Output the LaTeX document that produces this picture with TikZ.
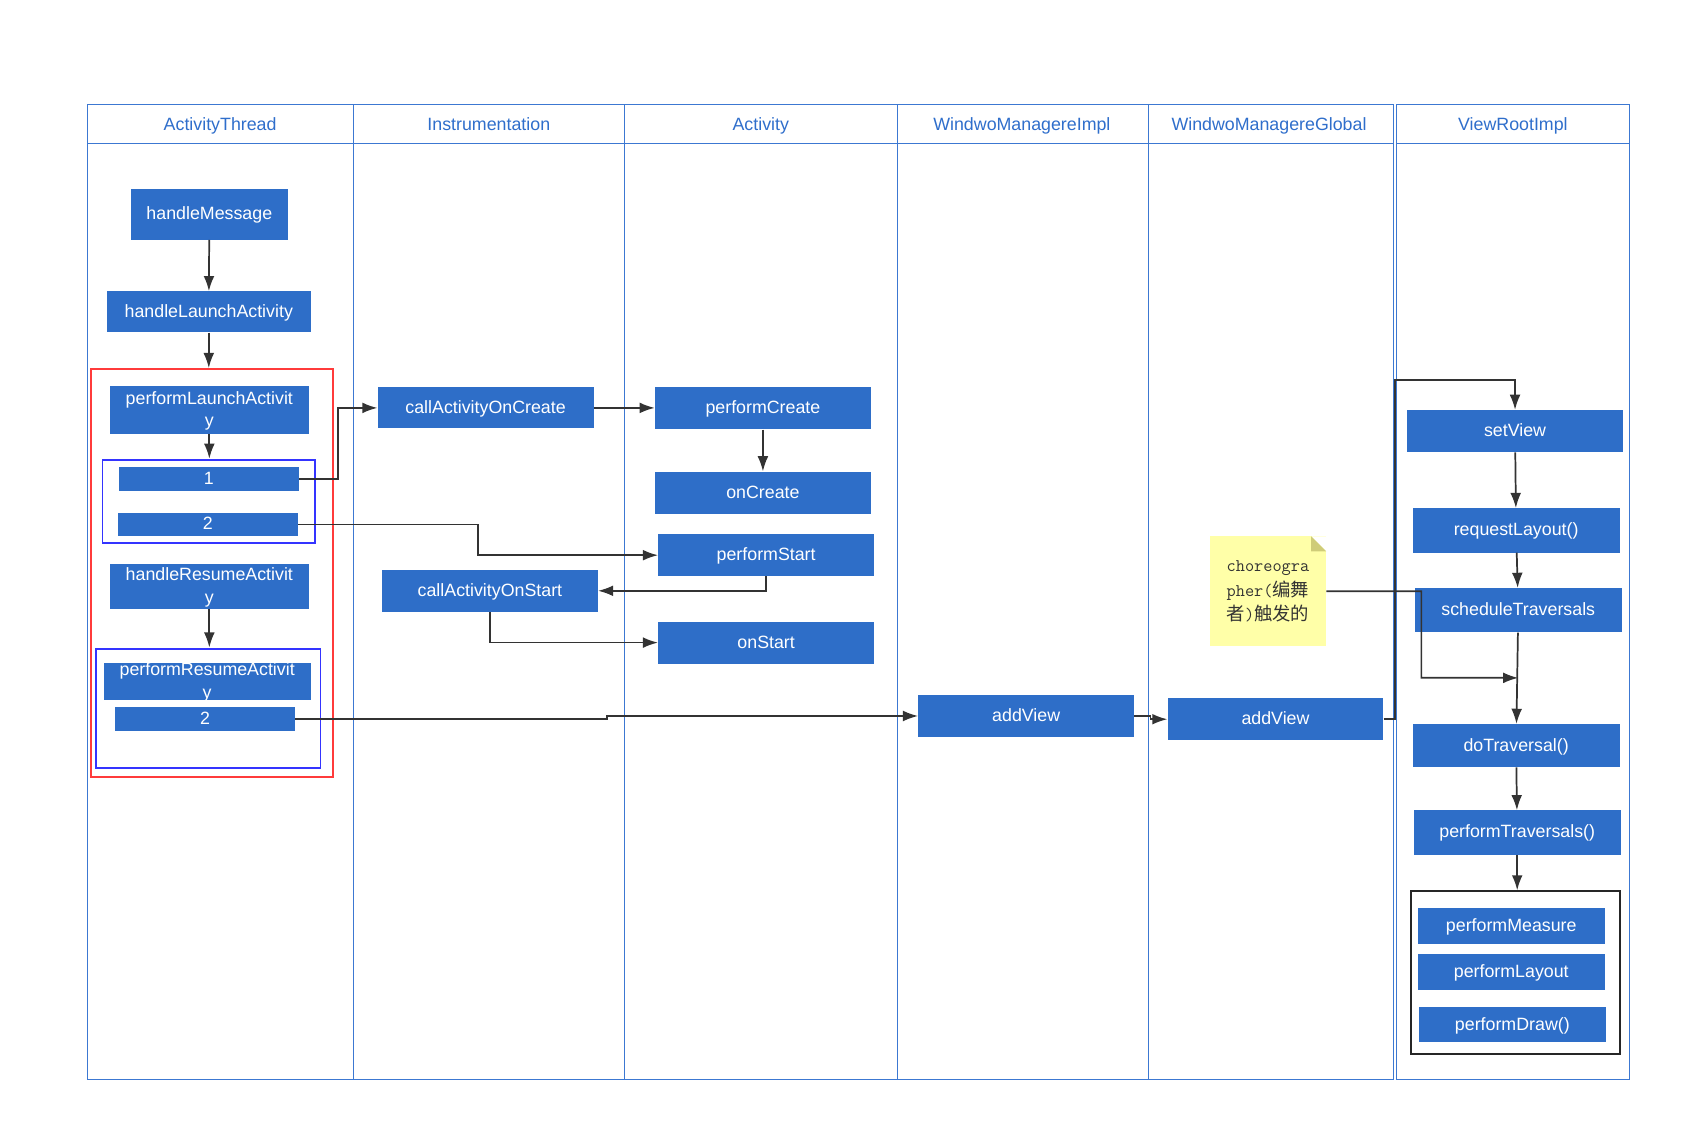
\documentclass[tikz,border=0pt]{standalone}
\usepackage{fontspec}
\setmainfont{Liberation Sans}
\newfontfamily\cjk{Noto Sans CJK SC}
\usetikzlibrary{arrows.meta,calc}
\definecolor{boxblue}{HTML}{2E6EC8}
\definecolor{laneblue}{HTML}{3C78D2}
\definecolor{headblue}{HTML}{2F6ECB}
\definecolor{linegray}{HTML}{333333}
\definecolor{noteyellow}{HTML}{FFFFA8}
\definecolor{notefold}{HTML}{CFCC78}
\definecolor{groupred}{HTML}{FF3B3B}
\definecolor{groupblue}{HTML}{3434FF}
\newcommand\zhtext[1]{{\cjk\fontsize{17}{23}\selectfont #1}}
\tikzset{
  fn/.style={fill=boxblue,text=white,inner sep=0pt,align=center,text height=12pt,text depth=2pt,
    font=\fontsize{16.5}{21}\selectfont},
  twoline/.style={text height=33pt},
  head/.style={text=headblue,text height=12pt,text depth=2pt,font=\fontsize{16.5}{20}\selectfont},
  lane/.style={draw=laneblue,line width=1pt},
  link/.style={draw=linegray,line width=1.6pt,-{Latex[length=14pt,width=10pt]}},
  group/.style={draw,line width=1.8pt,inner sep=0pt},
  note/.style={fill=noteyellow,inner sep=0pt,align=left,text=linegray,
    font=\ttfamily\fontsize{16.5}{23}\selectfont,
    path picture={
      \fill[white] (path picture bounding box.north east) -- ++(-14pt,0) -- ++(14pt,-14pt) -- cycle;
      \fill[notefold] ($(path picture bounding box.north east)+(-14pt,0)$) -- ++(0,-14pt) -- ++(14pt,0) -- cycle;
    }},
}
\begin{document}
\begin{tikzpicture}[x=1pt,y=-1pt]
\useasboundingbox (0,0) rectangle (1568,1058);
\draw[lane] (81,97) rectangle (1291,1000);
\draw[lane] (81,133) -- (1291,133);
\foreach \x in {328,579,832,1064} \draw[lane] (\x,97) -- (\x,1000);
\draw[lane] (1294,97) rectangle (1510,1000);
\draw[lane] (1294,133) -- (1510,133);
\foreach \x/\t [count=\i] in {204/ActivityThread,453/Instrumentation,705/Activity,947/WindwoManagereImpl,1176/WindwoManagereGlobal,1402/ViewRootImpl}
  \node[head] (head\i) at (\x,116) {\t};

\node[group,draw=groupred,minimum width=225,minimum height=378] (launchGroup) at (196.5,531) {};
\node[group,draw=groupblue,minimum width=197,minimum height=77] (launchStep) at (193.5,464.5) {};
\node[group,draw=groupblue,minimum width=208,minimum height=111] (resumeGroup) at (193,656.5) {};
\node[group,draw=black!85,minimum width=193,minimum height=151] (drawGroup) at (1404.5,901.5) {};

\node[fn,minimum width=146,minimum height=47] (handleMessage) at (194,198.5) {handleMessage};
\node[fn,minimum width=189,minimum height=38] (handleLaunch) at (193.5,289) {handleLaunchActivity};
\node[fn,twoline,minimum width=184,minimum height=44] (performLaunch) at (194,380) {performLaunchActivit\\y};
\node[fn,minimum width=167,minimum height=22] (launchOne) at (193.5,444) {1};
\node[fn,minimum width=167,minimum height=22] (launchTwo) at (192.5,486) {2};
\node[fn,twoline,minimum width=184,minimum height=41] (handleResume) at (194,543.5) {handleResumeActivit\\y};
\node[fn,twoline,minimum width=192,minimum height=35] (performResume) at (192,631.5) {performResumeActivit\\y};
\node[fn,minimum width=166,minimum height=22] (resumeTwo) at (190,666) {2};

\node[fn,minimum width=200,minimum height=38] (callOnCreate) at (450,378) {callActivityOnCreate};
\node[fn,minimum width=200,minimum height=39] (callOnStart) at (454,547.5) {callActivityOnStart};

\node[fn,minimum width=200,minimum height=39] (performCreate) at (707,378.5) {performCreate};
\node[fn,minimum width=200,minimum height=39] (onCreate) at (707,456.5) {onCreate};
\node[fn,minimum width=200,minimum height=39] (performStart) at (710,514.5) {performStart};
\node[fn,minimum width=200,minimum height=39] (onStart) at (710,595.5) {onStart};

\node[fn,minimum width=200,minimum height=39] (addViewImpl) at (951,663.5) {addView};
\node[fn,minimum width=200,minimum height=39] (addViewGlobal) at (1182,666.5) {addView};
\node[note,minimum width=108,minimum height=102] (note) at (1175,548)
  {choreogra\\pher(\zhtext{编舞}\\\zhtext{者})\zhtext{触发的}};

\node[fn,minimum width=200,minimum height=39] (setView) at (1404,399.5) {setView};
\node[fn,minimum width=192,minimum height=41] (requestLayout) at (1405,491.5) {requestLayout()};
\node[fn,minimum width=192,minimum height=41] (scheduleTraversals) at (1407,565.5) {scheduleTraversals};
\node[fn,minimum width=192,minimum height=40] (doTraversal) at (1405,691) {doTraversal()};
\node[fn,minimum width=192,minimum height=41] (performTraversals) at (1406,771.5) {performTraversals()};
\node[fn,minimum width=173,minimum height=34] (performMeasure) at (1400.5,858) {performMeasure};
\node[fn,minimum width=173,minimum height=33] (performLayout) at (1400.5,900.5) {performLayout};
\node[fn,minimum width=173,minimum height=33] (performDraw) at (1401.5,949.5) {performDraw()};

\draw[link] (handleMessage) -- (handleLaunch);
\draw[link] (handleLaunch.south) -- (handleLaunch.south |- launchGroup.north);
\draw[link] (performLaunch.south) -- (performLaunch.south |- launchStep.north);
\draw[link] (launchOne.east) -- ++(36,0) |- (callOnCreate.west);
\draw[link] (callOnCreate.east) -- (callOnCreate.east -| performCreate.west);
\draw[link] (performCreate) -- (onCreate);
\draw[link] (launchTwo.east) -- ++(167,0) |- (performStart.west);
\draw[link] (performStart.south) |- (callOnStart.east);
\draw[link] (callOnStart.south) |- (onStart.west);
\draw[link] (handleResume.south) -- (handleResume.south |- resumeGroup.north);
\draw[link] (resumeTwo.east) -- ++(289,0) |- (addViewImpl.west);
\draw[link] (addViewImpl.east) -- ++(15,0) |- (addViewGlobal.west);
\coordinate (viewTop) at (1293,352);
\draw[link] (addViewGlobal.east) -| (viewTop) -| (setView.north);
\draw[link] (setView) -- (requestLayout);
\draw[link] (requestLayout) -- (scheduleTraversals);
\draw[link] (scheduleTraversals) -- (doTraversal);
\coordinate (trigger) at ($(scheduleTraversals.south)+(0,42)$);
\draw[link] (note.east) -| ++(88,80) -- (trigger);
\draw[link] (doTraversal) -- (performTraversals);
\draw[link] (performTraversals.south) -- (performTraversals.south |- drawGroup.north);
\end{tikzpicture}
\end{document}
